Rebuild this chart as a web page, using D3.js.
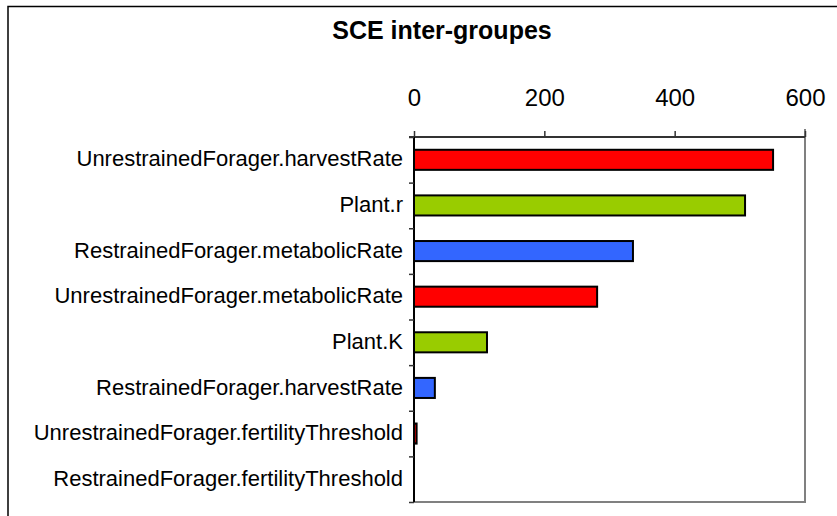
<!DOCTYPE html>
<html>
<head>
<meta charset="utf-8">
<script src="https://cdn.jsdelivr.net/npm/d3@7"></script>
<style>
  html, body { margin: 0; padding: 0; background: #fff; }
  svg { display: block; }
  text { font-family: "Liberation Sans", Arial, sans-serif; fill: #000; }
</style>
</head>
<body>
<svg id="chart" width="837" height="516"></svg>
<script>
// Between-group sum of squares (SCE inter-groupes) per model parameter
const categories = [
  "UnrestrainedForager.harvestRate",
  "Plant.r",
  "RestrainedForager.metabolicRate",
  "UnrestrainedForager.metabolicRate",
  "Plant.K",
  "RestrainedForager.harvestRate",
  "UnrestrainedForager.fertilityThreshold",
  "RestrainedForager.fertilityThreshold"
];
const values = [551, 508, 336, 281, 112, 32, 4, 0];
const groups = ["Unrestrained", "Plant", "Restrained", "Unrestrained", "Plant", "Restrained", "Unrestrained", "Restrained"];
const groupNames = ["Unrestrained", "Plant", "Restrained"];
const groupColors = ["#FF0000", "#99CC00", "#3366FF"];
const xTicks = [0, 200, 400, 600];
const title = "SCE inter-groupes";

(function () {
  const svg = d3.select("#chart");

  // outer chart frame
  svg.append("rect")
    .attr("x", 8).attr("y", 6.5)
    .attr("width", 900).attr("height", 600)
    .attr("fill", "none").attr("stroke", "#000").attr("stroke-width", 1.5);

  svg.append("text")
    .attr("x", 442).attr("y", 39)
    .attr("text-anchor", "middle")
    .style("font-size", "25px").style("font-weight", "bold")
    .text(title);

  const pLeft = 414, pRight = 805, pTop = 137, pBottom = 502;

  const x = d3.scaleLinear().domain([0, 600]).range([pLeft, pRight]);
  const y = d3.scaleBand().domain(categories).range([pTop, pBottom])
    .paddingInner(0.56).paddingOuter(0.28);
  const color = d3.scaleOrdinal().domain(groupNames).range(groupColors);

  // plot area right/bottom edges
  svg.append("path")
    .attr("d", `M${pRight},${pTop - 8}V${pBottom}H${pLeft}`)
    .attr("fill", "none").attr("stroke", "#808080").attr("stroke-width", 2);

  // bars
  svg.append("g").selectAll("rect")
    .data(categories)
    .join("rect")
    .attr("x", x(0))
    .attr("y", d => y(d))
    .attr("width", (d, i) => x(values[i]) - x(0))
    .attr("height", y.bandwidth())
    .attr("fill", (d, i) => color(groups[i]))
    .attr("stroke", "#000")
    .attr("stroke-width", (d, i) => values[i] > 0 ? 2 : 0);

  // top value axis
  const xAxis = svg.append("g")
    .attr("transform", `translate(0,${pTop})`)
    .call(d3.axisTop(x).tickValues(xTicks).tickSize(6).tickSizeOuter(0).tickPadding(25));
  xAxis.select(".domain").attr("d", `M${pLeft - 5},0H${pRight}`).attr("stroke", "#333").attr("stroke-width", 2);
  xAxis.selectAll(".tick line").attr("stroke", "#333").attr("stroke-width", 1.5);
  xAxis.selectAll(".tick text").style("font-size", "24px").attr("font-family", null);

  // category axis: boundary ticks
  const boundaries = d3.scaleLinear().domain([0, categories.length]).range([pTop, pBottom]);
  const yTicks = svg.append("g")
    .attr("transform", `translate(${pLeft},0)`)
    .call(d3.axisLeft(boundaries).tickValues(d3.range(categories.length + 1)).tickSize(5).tickFormat(""));
  yTicks.select(".domain").attr("d", `M0,${pTop}V${pBottom}`).attr("stroke", "#000").attr("stroke-width", 2);
  yTicks.selectAll(".tick line").attr("stroke", "#333").attr("stroke-width", 1.5);

  // category labels
  const yLabels = svg.append("g")
    .attr("transform", `translate(${pLeft},0)`)
    .call(d3.axisLeft(y).tickSize(0).tickPadding(11));
  yLabels.select(".domain").remove();
  yLabels.selectAll(".tick text").style("font-size", "22px").attr("font-family", null).attr("dy", "0.3em");
})();
</script>
</body>
</html>
